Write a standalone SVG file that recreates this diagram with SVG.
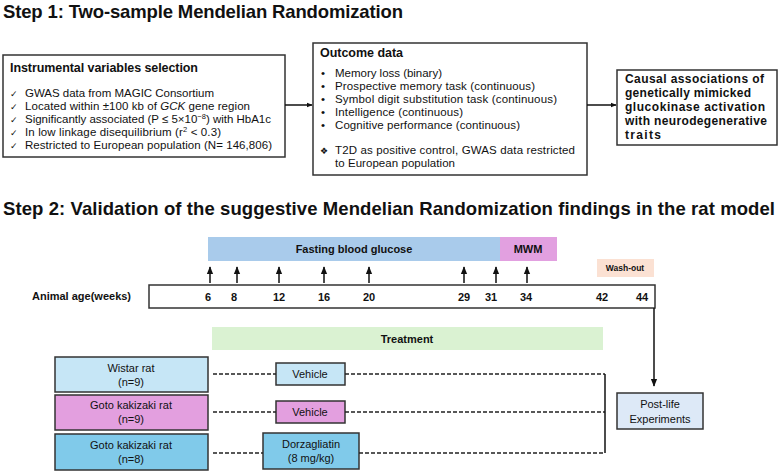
<svg xmlns="http://www.w3.org/2000/svg" width="779" height="473" viewBox="0 0 779 473">
<defs>
<style>
.t{font-family:"Liberation Sans",Arial,sans-serif;fill:#111}
.ck{font-family:"DejaVu Sans",sans-serif;font-size:9px;fill:#111}
.h{font-family:"Liberation Sans",Arial,sans-serif;font-weight:bold;fill:#111}
.b{font-weight:bold}
.a{font-family:"Liberation Sans",Arial,sans-serif;fill:#111}
.box{fill:#fff;stroke:#333;stroke-width:1.5}
.lb{fill:#c6e6f6;stroke:#333;stroke-width:1.5}
.pk{fill:#e39fdf;stroke:#333;stroke-width:1.5}
.sb{fill:#80caea;stroke:#333;stroke-width:1.5}
.pl{fill:#dde9f7;stroke:#333;stroke-width:1.5}
.dash{fill:none;stroke:#222;stroke-width:1.3;stroke-dasharray:4 2}
.ln{fill:none;stroke:#111;stroke-width:1.5}
</style>
<marker id="ah" viewBox="0 0 10 10" refX="9" refY="5" markerWidth="6" markerHeight="6" orient="auto" markerUnits="userSpaceOnUse">
<path d="M0,1 L10,5 L0,9 z" fill="#111"/>
</marker>
<marker id="ah2" viewBox="0 0 10 10" refX="9" refY="5" markerWidth="8" markerHeight="8" orient="auto" markerUnits="userSpaceOnUse">
<path d="M0,1 L10,5 L0,9 z" fill="#111"/>
</marker>
</defs>
<rect width="779" height="473" fill="#fff"/>

<text class="h" x="3" y="18" font-size="18.5" textLength="400">Step 1: Two-sample Mendelian Randomization</text>
<text class="h" x="3" y="215" font-size="18.5" textLength="772">Step 2: Validation of the suggestive Mendelian Randomization findings in the rat model</text>

<g id="iv">
<rect class="box" x="3" y="55" width="282" height="102"/>
<text class="t b" x="10" y="72" font-size="12.5" textLength="188">Instrumental variables selection</text>
<g class="t" font-size="11.5">
<text class="ck" x="10" y="97">✓</text><text x="25" y="97" textLength="189">GWAS data from MAGIC Consortium</text>
<text class="ck" x="10" y="110">✓</text><text x="25" y="110" textLength="225">Located within ±100 kb of <tspan font-style="italic">GCK</tspan> gene region</text>
<text class="ck" x="10" y="123">✓</text><text x="25" y="123" textLength="246">Significantly associated (P ≤ 5×10<tspan font-size="7.5" dy="-4">−8</tspan><tspan dy="4">) with HbA1c</tspan></text>
<text class="ck" x="10" y="136">✓</text><text x="25" y="136" textLength="196">In low linkage disequilibrium (r<tspan font-size="7.5" dy="-4">2</tspan><tspan dy="4"> &lt; 0.3)</tspan></text>
<text class="ck" x="10" y="149">✓</text><text x="25" y="149" textLength="247">Restricted to European population (N= 146,806)</text>
</g>
</g>

<g id="outcome">
<rect class="box" x="313" y="43" width="274" height="132"/>
<text class="t b" x="320" y="57" font-size="12.5" textLength="83">Outcome data</text>
<g class="t" font-size="11.5">
<text x="321" y="77">•</text><text x="335" y="77" textLength="107">Memory loss (binary)</text>
<text x="321" y="90">•</text><text x="335" y="90" textLength="200">Prospective memory task (continuous)</text>
<text x="321" y="103">•</text><text x="335" y="103" textLength="222">Symbol digit substitution task (continuous)</text>
<text x="321" y="116">•</text><text x="335" y="116" textLength="128">Intelligence (continuous)</text>
<text x="321" y="129">•</text><text x="335" y="129" textLength="185">Cognitive performance (continuous)</text>
<text class="ck" x="320" y="154">❖</text><text x="335" y="154" textLength="240">T2D as positive control, GWAS data restricted</text>
<text x="335" y="167" textLength="120">to European population</text>
</g>
</g>

<g id="causal">
<rect class="box" x="617" y="70" width="160" height="75"/>
<g class="t b" font-size="12">
<text x="625" y="83" textLength="139">Causal associations of</text>
<text x="625" y="97" textLength="126">genetically mimicked</text>
<text x="625" y="111" textLength="140">glucokinase activation</text>
<text x="625" y="125" textLength="142">with neurodegenerative</text>
<text x="625" y="139" textLength="36">traits</text>
</g>
</g>

<g id="fbg">
<rect x="208" y="237" width="292" height="24" fill="#a9cbeb"/>
<text class="a b" x="354" y="253" font-size="11" text-anchor="middle">Fasting blood glucose</text>
</g>
<g id="mwm">
<rect x="500" y="237" width="57" height="24" fill="#e2a0e0"/>
<text class="a b" x="528" y="253" font-size="11" text-anchor="middle">MWM</text>
</g>
<g id="washout">
<rect x="597" y="259" width="57" height="18" fill="#fbe1d3"/>
<text class="a b" x="625" y="271" font-size="8.5" text-anchor="middle">Wash-out</text>
</g>

<g id="timeline">
<text class="a b" x="32" y="300" font-size="11">Animal age(weeks)</text>
<rect class="box" x="149" y="285" width="506" height="23"/>
<g class="a b" font-size="11" text-anchor="middle">
<text x="208" y="301">6</text><text x="234" y="301">8</text><text x="279" y="301">12</text><text x="324" y="301">16</text><text x="369" y="301">20</text><text x="464" y="301">29</text><text x="491" y="301">31</text><text x="526" y="301">34</text><text x="602" y="301">42</text><text x="642" y="301">44</text>
</g>
</g>

<g id="treatment">
<rect x="212" y="327" width="391" height="23" fill="#daf2d2"/>
<text class="a b" x="407" y="343" font-size="11" text-anchor="middle">Treatment</text>
</g>

<g id="wistar">
<rect class="lb" x="55" y="357" width="153" height="35"/>
<g class="a" font-size="11" text-anchor="middle"><text x="131" y="372">Wistar rat</text><text x="131" y="386">(n=9)</text></g>
</g>
<g id="gk1">
<rect class="pk" x="55" y="395" width="153" height="35"/>
<g class="a" font-size="11" text-anchor="middle"><text x="131" y="409">Goto kakizaki  rat</text><text x="131" y="423">(n=9)</text></g>
</g>
<g id="gk2">
<rect class="sb" x="55" y="434" width="153" height="36"/>
<g class="a" font-size="11" text-anchor="middle"><text x="131" y="449">Goto kakizaki  rat</text><text x="131" y="463">(n=8)</text></g>
</g>

<g id="vehicle1">
<rect class="lb" x="276" y="363" width="69" height="22"/>
<text class="a" x="310" y="378" font-size="11" text-anchor="middle">Vehicle</text>
</g>
<g id="vehicle2">
<rect class="pk" x="276" y="401" width="69" height="22"/>
<text class="a" x="310" y="416" font-size="11" text-anchor="middle">Vehicle</text>
</g>
<g id="dorza">
<rect class="sb" x="263" y="433" width="96" height="36"/>
<g class="a" font-size="11" text-anchor="middle"><text x="311" y="448">Dorzagliatin</text><text x="311" y="462">(8 mg/kg)</text></g>
</g>

<g id="postlife">
<rect class="pl" x="617" y="393" width="86" height="36"/>
<g class="a" font-size="11" text-anchor="middle"><text x="660" y="408">Post-life</text><text x="660" y="423">Experiments</text></g>
</g>

<g id="connectors">
<line class="ln" x1="285" y1="105" x2="312" y2="105" marker-end="url(#ah)"/>
<line class="ln" x1="587" y1="105" x2="616" y2="105" marker-end="url(#ah)"/>
<g marker-end="url(#ah2)">
<line class="ln" x1="210" y1="283" x2="210" y2="267"/>
<line class="ln" x1="237" y1="283" x2="237" y2="267"/>
<line class="ln" x1="279" y1="283" x2="279" y2="267"/>
<line class="ln" x1="324" y1="283" x2="324" y2="267"/>
<line class="ln" x1="369" y1="283" x2="369" y2="267"/>
<line class="ln" x1="464" y1="283" x2="464" y2="267"/>
<line class="ln" x1="496" y1="283" x2="496" y2="267"/>
<line class="ln" x1="527" y1="283" x2="527" y2="267"/>
</g>
<line class="ln" x1="654" y1="308" x2="654" y2="386" marker-end="url(#ah2)"/>
<path class="dash" d="M213,374 H276 M345,374 H605 M213,412 H276 M345,412 H605 M213,453 H263 M359,453 H605"/>
<path class="ln" d="M605,374 V453"/>
</g>
</svg>
